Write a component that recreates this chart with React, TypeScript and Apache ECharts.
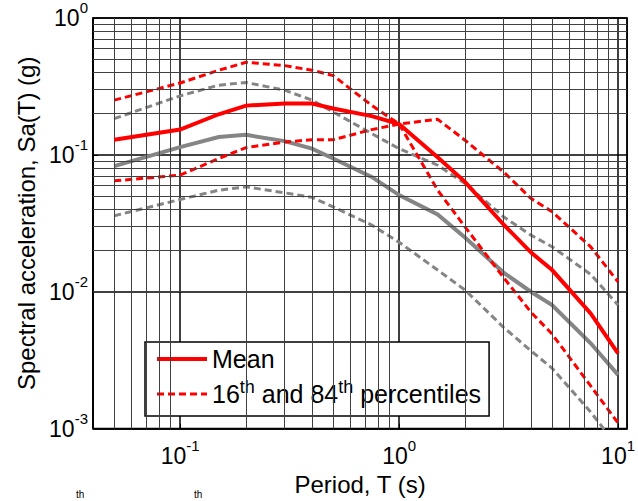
import React, { useEffect, useRef } from 'react';
import * as echarts from 'echarts';

// Periods (s)
const periods = [0.05, 0.1, 0.15, 0.2, 0.3, 0.4, 0.5, 0.75, 1, 1.5, 2, 3, 4, 5, 7.5, 10];

// Red set (g)
const redMean = [0.129, 0.153, 0.198, 0.229, 0.237, 0.237, 0.218, 0.192, 0.168, 0.096, 0.0635, 0.031, 0.0194, 0.0144, 0.00695, 0.00355];
const redUpper = [0.251, 0.335, 0.415, 0.475, 0.449, 0.415, 0.38, 0.23, 0.168, 0.0552, 0.0298, 0.0127, 0.0071, 0.0049, 0.00205, 0.0011];
const redLower = [0.0646, 0.0711, 0.094, 0.113, 0.124, 0.129, 0.129, 0.153, 0.168, 0.182, 0.128, 0.0751, 0.0481, 0.0384, 0.0213, 0.0118];

// Gray set (g)
const grayMean = [0.0827, 0.114, 0.135, 0.14, 0.126, 0.111, 0.094, 0.069, 0.0508, 0.0367, 0.0249, 0.0138, 0.01, 0.008, 0.0042, 0.00247];
const grayUpper = [0.184, 0.27, 0.323, 0.338, 0.297, 0.251, 0.206, 0.143, 0.111, 0.084, 0.0618, 0.0353, 0.0259, 0.0213, 0.0134, 0.008];
const grayLower = [0.0359, 0.0472, 0.0552, 0.0584, 0.0528, 0.0489, 0.0417, 0.0307, 0.023, 0.0144, 0.0103, 0.0055, 0.0037, 0.00276, 0.00132, 0.00073];

// Minor grid values
const minorX = [0.05, 0.06, 0.07, 0.08, 0.09, 0.2, 0.3, 0.4, 0.5, 0.6, 0.7, 0.8, 0.9, 2, 3, 4, 5, 6, 7, 8, 9];
const minorY = [0.002, 0.003, 0.004, 0.005, 0.006, 0.007, 0.008, 0.009, 0.02, 0.03, 0.04, 0.05, 0.06, 0.07, 0.08, 0.09, 0.2, 0.3, 0.4, 0.5, 0.6, 0.7, 0.8, 0.9];

const xRange = [0.04, 11];
const yRange = [0.001, 1];

const MEAN = 'Mean';
const PCT = '16th and 84th percentiles';
const RED = '#ff0000';
const GRAY = '#858585';
const FONT = 'Arial, "Liberation Sans", Helvetica, sans-serif';

export default function App() {
  const ref = useRef<HTMLDivElement>(null);

  useEffect(() => {
    document.body.style.margin = '0';
    const chart = echarts.init(ref.current!, null, { renderer: 'svg' });
    const pairs = (ys: number[]) => periods.map((t, i) => [t, ys[i]]);
    const powLabel = (v: number) => {
      const e = Math.log10(v);
      const r = Math.round(e);
      if (Math.abs(e - r) > 1e-6) return '';
      return `{b|10}{s|${r}}`;
    };
    const rich = {
      b: { fontSize: 23, lineHeight: 36, fontFamily: FONT, color: '#000' },
      s: { fontSize: 15, lineHeight: 15, verticalAlign: 'top', fontFamily: FONT, color: '#000' },
    };
    const mk = (name: string, ys: number[], color: string, width: number, dashed: boolean, z: number) => ({
      type: 'line',
      name,
      data: pairs(ys),
      symbol: 'none',
      showSymbol: false,
      z,
      clip: true,
      silent: true,
      lineStyle: { color, width, type: dashed ? [7, 4] : 'solid', cap: 'butt', join: 'miter' },
      itemStyle: { color },
      emphasis: { disabled: true },
    });

    chart.setOption({
      animation: false,
      grid: {
        left: 93,
        top: 18,
        width: 542,
        height: 411,
        show: true,
        borderColor: '#000',
        borderWidth: 1.5,
        backgroundColor: '#fff',
      },
      xAxis: {
        type: 'log',
        logBase: 10,
        min: xRange[0],
        max: xRange[1],
        name: 'Period, T (s)',
        nameLocation: 'middle',
        nameGap: 42,
        nameTextStyle: { fontSize: 24, fontFamily: FONT, color: '#000' },
        axisLine: { show: true, lineStyle: { color: '#000', width: 1.5 } },
        axisTick: { show: true, inside: true, length: 5, lineStyle: { color: '#000' } },
        axisLabel: { formatter: powLabel, rich, margin: 9, showMinLabel: false, showMaxLabel: true },
        splitLine: { show: true, lineStyle: { color: '#000', width: 1.5 } },
      },
      yAxis: {
        type: 'log',
        logBase: 10,
        min: yRange[0],
        max: yRange[1],
        name: 'Spectral acceleration, Sa(T) (g)',
        nameLocation: 'middle',
        nameGap: 52,
        nameTextStyle: { fontSize: 24, fontFamily: FONT, color: '#000' },
        axisLine: { show: true, lineStyle: { color: '#000', width: 1.5 } },
        axisTick: { show: true, inside: true, length: 5, lineStyle: { color: '#000' } },
        axisLabel: { formatter: powLabel, rich, margin: 5 },
        splitLine: { show: true, lineStyle: { color: '#000', width: 1.5 } },
      },
      legend: {
        data: [
          { name: MEAN, lineStyle: { width: 4 } },
          { name: PCT, lineStyle: { width: 3 } },
        ],
        orient: 'vertical',
        left: 145,
        top: 342,
        padding: [1, 8, 6, 10],
        itemGap: 3,
        itemWidth: 50,
        itemHeight: 14,
        borderColor: '#000',
        borderWidth: 1.5,
        borderRadius: 0,
        backgroundColor: '#fff',
        selectedMode: false,
        itemStyle: { opacity: 0 },
        formatter: (name: string) => (name === PCT ? '16{sup|th} and 84{sup|th} percentiles' : name),
        textStyle: {
          fontSize: 25,
          lineHeight: 32,
          fontFamily: FONT,
          color: '#000',
          rich: {
            sup: { fontSize: 18, lineHeight: 18, verticalAlign: 'top', fontFamily: FONT, color: '#000' },
          },
        },
      },
      graphic: [
        { type: 'text', left: 76, top: 489, silent: true, style: { text: 'th', font: `10px ${FONT}`, fill: '#000' } },
        { type: 'text', left: 194, top: 489, silent: true, style: { text: 'th', font: `10px ${FONT}`, fill: '#000' } },
      ],
      series: [
        {
          type: 'line',
          name: 'grid',
          data: [],
          z: 1,
          silent: true,
          markLine: {
            silent: true,
            symbol: 'none',
            animation: false,
            label: { show: false },
            emphasis: { disabled: true },
            lineStyle: { color: '#404040', width: 1, type: 'solid' },
            data: [
              ...minorX.map((v) => ({ xAxis: v })),
              ...minorY.map((v) => ({ yAxis: v })),
            ],
          },
        },
        mk('Gray upper', grayUpper, GRAY, 3, true, 3),
        mk('Gray lower', grayLower, GRAY, 3, true, 3),
        mk('Gray mean', grayMean, GRAY, 4, false, 3),
        mk(PCT, redUpper, RED, 3, true, 4),
        mk(PCT, redLower, RED, 3, true, 4),
        mk(MEAN, redMean, RED, 4, false, 5),
      ],
    });

    return () => chart.dispose();
  }, []);

  return <div ref={ref} style={{ width: 638, height: 501 }} />;
}
